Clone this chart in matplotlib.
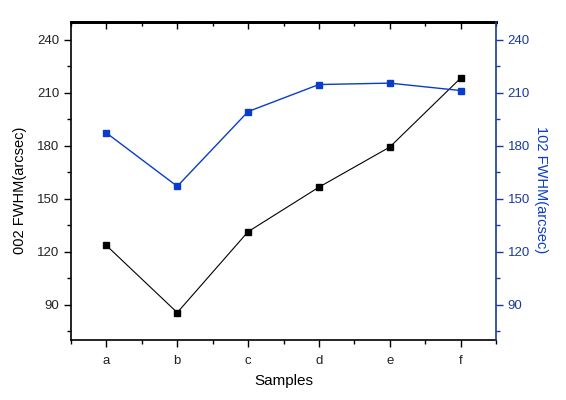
import matplotlib
matplotlib.use("Agg")
import matplotlib.pyplot as plt
from matplotlib.ticker import MultipleLocator

plt.rcParams['font.family'] = ['Liberation Sans', 'DejaVu Sans']

samples = ['a', 'b', 'c', 'd', 'e', 'f']
fwhm_002 = [123.5, 85.5, 131.3, 156.5, 179.2, 218.2]
fwhm_102 = [187.2, 157.0, 199.3, 214.6, 215.4, 211.2]

blue = '#0a3ccc'
dblue = '#1a3a9a'

fig = plt.figure(figsize=(5.66, 4.0), dpi=100)
ax = fig.add_axes([71/566, 1-340/400, (496-71)/566, (340-22)/400])
x = list(range(len(samples)))
ax.plot(x, fwhm_002, color='black', lw=0.8, marker='s', ms=4.6, mfc='black', mec='black', zorder=3)
ax.set_xlim(-0.5, 5.5)
ax.set_ylim(70, 250)
ax.set_xticks(x)
ax.set_xticklabels(samples)
ax.xaxis.set_minor_locator(MultipleLocator(0.5))
ax.set_yticks([90, 120, 150, 180, 210, 240])
ax.yaxis.set_minor_locator(MultipleLocator(15))
ax.tick_params(axis='both', which='major', direction='out', length=5, width=1, labelsize=9.5, color='black', labelcolor='#222222')
ax.tick_params(axis='both', which='minor', direction='out', length=3, width=1)
ax.tick_params(axis='x', which='major', pad=6)

# inward ticks on the top spine
axt = ax.secondary_xaxis('top')
axt.set_xticks(x)
axt.xaxis.set_minor_locator(MultipleLocator(0.5))
axt.tick_params(axis='x', which='major', direction='in', length=5, width=1, labeltop=False)
axt.tick_params(axis='x', which='minor', direction='in', length=3, width=1)
axt.spines['top'].set_linewidth(2)

for s in ['left', 'bottom']:
    ax.spines[s].set_linewidth(1.2)
ax.spines['top'].set_linewidth(2)
ax.spines['right'].set_visible(False)
ax.set_xlabel('Samples', fontsize=11, labelpad=5)
ax.set_ylabel('002 FWHM(arcsec)', fontsize=10.5)
ax.yaxis.set_label_coords(-(71-27)/425, (340-190)/318)

ax2 = ax.twinx()
ax2.plot(x, fwhm_102, color=blue, lw=1.0, marker='s', ms=4.6, mfc=blue, mec=blue, zorder=3)
ax2.set_ylim(70, 250)
ax2.set_yticks([90, 120, 150, 180, 210, 240])
ax2.yaxis.set_minor_locator(MultipleLocator(15))
ax2.tick_params(axis='y', which='major', direction='out', length=5, width=1, labelsize=9.5, color=dblue, labelcolor=dblue)
ax2.tick_params(axis='y', which='minor', direction='out', length=3, width=1, color=dblue)
for s in ['left', 'bottom', 'top']:
    ax2.spines[s].set_visible(False)
ax2.spines['right'].set_color(dblue)
ax2.spines['right'].set_linewidth(1.2)
ax2.set_ylabel('102 FWHM(arcsec)', fontsize=10.5, color=blue, rotation=270)
ax2.yaxis.set_label_coords(1 + (548-496)/425, (340-190)/318)

fig.savefig('out.png', dpi=100)
